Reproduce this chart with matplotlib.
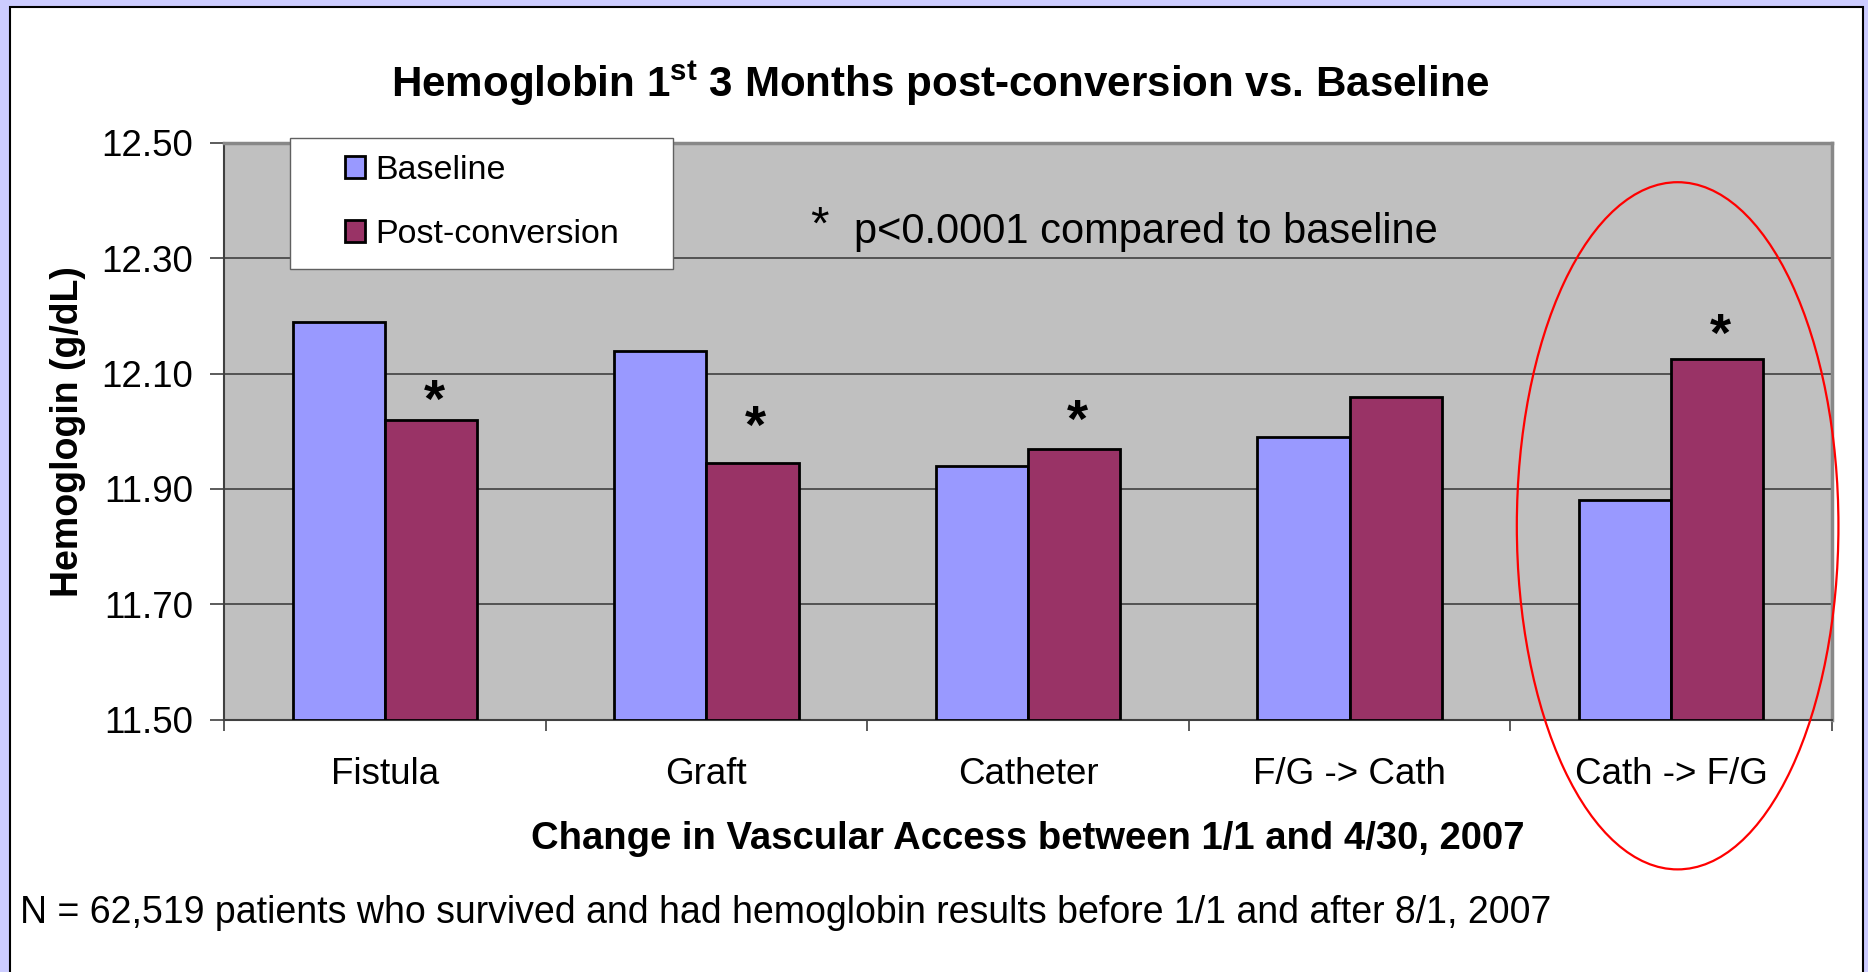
import matplotlib
matplotlib.use('Agg')
import matplotlib.pyplot as plt
from matplotlib.patches import Rectangle, Ellipse
import numpy as np

plt.rcParams['font.family'] = ['Liberation Sans', 'DejaVu Sans']
plt.rcParams['mathtext.fontset'] = 'custom'
plt.rcParams['mathtext.rm'] = 'Liberation Sans'
plt.rcParams['mathtext.bf'] = 'Liberation Sans:bold'

# data
categories = ['Fistula', 'Graft', 'Catheter', 'F/G -> Cath', 'Cath -> F/G']
baseline = [12.19, 12.14, 11.94, 11.99, 11.88]
post_conversion = [12.02, 11.945, 11.97, 12.06, 12.125]
# height of the significance star above each group (None = no star)
star_y = [12.070, 12.025, 12.035, None, 12.184]
yticks = [11.50, 11.70, 11.90, 12.10, 12.30, 12.50]

W, H = 1868, 972
fig = plt.figure(figsize=(W / 100, H / 100), dpi=100)
fig.patch.set_facecolor('#CCCCFF')

# white slide panel
panel = Rectangle((10 / W, -0.05), 1853 / W, 1.05 - 7 / H,
                  transform=fig.transFigure, facecolor='white',
                  edgecolor='black', linewidth=1.5, zorder=-10)
fig.patches.append(panel)

ax = fig.add_axes([224 / W, 1 - 719.5 / H, 1608 / W, 576.5 / H])
ax.set_facecolor('#C0C0C0')

x = np.arange(len(categories))
w = 0.287
ax.bar(x - w / 2, np.array(baseline) - 11.5, w, bottom=11.5, color='#9999FF',
       edgecolor='black', linewidth=2, label='Baseline', zorder=3)
ax.bar(x + w / 2, np.array(post_conversion) - 11.5, w, bottom=11.5, color='#993366',
       edgecolor='black', linewidth=2, label='Post-conversion', zorder=3)

star_fs = 39
for i, sy in enumerate(star_y):
    if sy is not None:
        # shift the baseline down so the glyph itself is centred on sy
        ax.annotate('*', (x[i] + w / 2 + 0.01, sy), xytext=(0, -0.48 * star_fs),
                    textcoords='offset points', ha='center', va='baseline',
                    fontsize=star_fs, fontweight='bold', zorder=4)

ax.set_xlim(-0.5, len(categories) - 0.5)
ax.set_ylim(11.5, 12.5)
ax.set_yticks(yticks)
ax.set_yticklabels(['%.2f' % v for v in yticks], fontsize=26.5)
ax.yaxis.grid(True, color='#404040', linewidth=1.2, zorder=1)
ax.set_axisbelow(True)
ax.tick_params(axis='y', length=10, width=1.2, color='#404040', pad=12)

ax.set_xticks(x)
ax.set_xticklabels(categories, fontsize=26.5)
ax.tick_params(axis='x', length=0, pad=27)
ax.set_xticks(np.arange(-0.5, len(categories)), minor=True)
ax.tick_params(axis='x', which='minor', length=8, width=1.2, color='#404040')

for s in ['left', 'bottom']:
    ax.spines[s].set_color('#404040')
    ax.spines[s].set_linewidth(1.5)
for s in ['top', 'right']:
    ax.spines[s].set_color('#888888')
    ax.spines[s].set_linewidth(2.5)

ax.set_ylabel('Hemoglogin (g/dL)', fontsize=27, fontweight='bold', labelpad=11)
ax.set_xlabel('Change in Vascular Access between 1/1 and 4/30, 2007',
              fontsize=27.5, fontweight='bold', labelpad=21)

fig.text(940 / W, 1 - 83 / H,
         r'Hemoglobin 1$^{\mathbf{st}}$ 3 Months post-conversion vs. Baseline',
         ha='center', va='center', fontsize=30.3, fontweight='bold')

# p-value note
note_star_fs = 34
ax.annotate('*', (0.3706, 0.8803), xycoords='axes fraction',
            xytext=(0, -0.57 * note_star_fs), textcoords='offset points',
            ha='center', va='baseline', fontsize=note_star_fs)
ax.text(0.3918, 0.8265, 'p<0.0001 compared to baseline', transform=ax.transAxes,
        ha='left', va='baseline', fontsize=30)

# highlight ellipse
ell = Ellipse((4.02, 11.836), 1.0, 1.192, facecolor='none', edgecolor='red',
              linewidth=1.6, clip_on=False, zorder=5)
ax.add_patch(ell)

# legend box drawn separately so it can be wider than its contents
legbox = Rectangle((289.5 / W, 1 - 269 / H), 383.5 / W, 131 / H,
                   transform=fig.transFigure, facecolor='white',
                   edgecolor='#606060', linewidth=1.0, zorder=6)
fig.patches.append(legbox)
leg = fig.legend(loc='upper left', bbox_to_anchor=(345 / W, 1 - 155 / H),
                 fontsize=24.5, frameon=False,
                 handlelength=0.6, handleheight=0.6, handletextpad=0.3,
                 labelspacing=0.97, borderpad=0, borderaxespad=0)
leg.set_zorder(7)

fig.text(20 / W, 1 - 913 / H,
         'N = 62,519 patients who survived and had hemoglobin results before 1/1 and after 8/1, 2007',
         ha='left', va='center', fontsize=27)

fig.savefig('out.png', dpi=100, facecolor=fig.get_facecolor())
